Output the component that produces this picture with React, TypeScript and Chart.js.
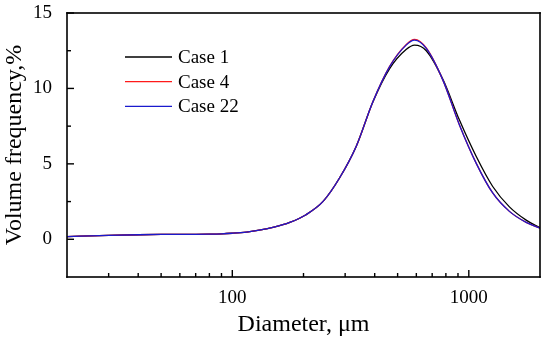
import React, { useEffect, useRef } from 'react';
import { Chart, registerables } from 'chart.js';

Chart.register(...registerables);

// ---- data ----
const diameters = [20, 30, 40, 50, 60, 70, 80, 90, 100, 115, 130, 150, 175, 205, 242, 284, 334, 393, 462, 543, 590, 661, 777, 913, 1074, 1262, 1485, 1748, 2000];
const case1 = [0.18, 0.26, 0.3, 0.32, 0.33, 0.33, 0.34, 0.36, 0.4, 0.48, 0.6, 0.8, 1.12, 1.63, 2.51, 4.06, 6.15, 9.1, 11.3, 12.58, 12.87, 12.5, 10.6, 7.9, 5.5, 3.5, 2.15, 1.27, 0.76];
const case4 = [0.18, 0.26, 0.3, 0.32, 0.33, 0.33, 0.34, 0.36, 0.4, 0.48, 0.6, 0.8, 1.12, 1.63, 2.51, 4.06, 6.15, 9.12, 11.45, 12.9, 13.25, 12.68, 10.55, 7.58, 5.05, 3.07, 1.85, 1.12, 0.74];
const case22 = [0.18, 0.26, 0.3, 0.32, 0.33, 0.33, 0.34, 0.36, 0.4, 0.48, 0.6, 0.8, 1.12, 1.63, 2.51, 4.06, 6.15, 9.12, 11.43, 12.87, 13.2, 12.65, 10.55, 7.58, 5.05, 3.07, 1.85, 1.12, 0.74];

const seriesNames = ['Case 1', 'Case 4', 'Case 22'];
const seriesColors = ['#000000', '#ff1a1a', '#1a1acd'];

const xMin = 20;
const xMax = 2000;
const yMin = -2.5;
const yMax = 15;
const xMajorTicks = [100, 1000];
const xMinorTicks = [30, 40, 50, 60, 70, 80, 90, 200, 300, 400, 500, 600, 700, 800, 900];
const yMajorTicks = [0, 5, 10, 15];
const yMinorTicks = [2.5, 7.5, 12.5];

const FONT = '"Liberation Serif", "Times New Roman", serif';

const framePlugin = {
  id: 'frameTicks',
  afterDraw(chart: any) {
    const ctx = chart.ctx as CanvasRenderingContext2D;
    const { left, right, top, bottom } = chart.chartArea;
    const xs = chart.scales.x;
    const ys = chart.scales.y;
    ctx.save();
    ctx.globalAlpha = 1;
    ctx.fillStyle = '#000000';
    const w = 1.6;
    // frame: four sides
    ctx.fillRect(left - w / 2, top - w / 2, right - left + w, w);
    ctx.fillRect(left - w / 2, bottom - w / 2, right - left + w, w);
    ctx.fillRect(left - w / 2, top - w / 2, w, bottom - top + w);
    ctx.fillRect(right - w / 2, top - w / 2, w, bottom - top + w);

    // inward ticks
    const tw = 1.4;
    xMajorTicks.forEach((v) => {
      const px = xs.getPixelForValue(v);
      ctx.fillRect(px - tw / 2, bottom - 7, tw, 7);
    });
    xMinorTicks.forEach((v) => {
      const px = xs.getPixelForValue(v);
      ctx.fillRect(px - tw / 2, bottom - 4, tw, 4);
    });
    yMajorTicks.forEach((v) => {
      const py = ys.getPixelForValue(v);
      ctx.fillRect(left, py - tw / 2, 7, tw);
    });
    yMinorTicks.forEach((v) => {
      const py = ys.getPixelForValue(v);
      ctx.fillRect(left, py - tw / 2, 4, tw);
    });

    // legend inside the plot
    const lx = left + 58;
    const ly = top + 44;
    const gap = 24.7;
    ctx.font = '19px ' + FONT;
    ctx.textBaseline = 'middle';
    ctx.textAlign = 'left';
    seriesNames.forEach((name, i) => {
      const y = ly + i * gap;
      ctx.beginPath();
      ctx.strokeStyle = seriesColors[i];
      ctx.lineWidth = 1.3;
      ctx.moveTo(lx, y);
      ctx.lineTo(lx + 47, y);
      ctx.stroke();
      ctx.fillStyle = '#000';
      ctx.fillText(name, lx + 53, y + 1);
    });
    ctx.restore();
  },
};

export default function App() {
  const ref = useRef<HTMLCanvasElement | null>(null);

  useEffect(() => {
    document.body.style.margin = '0';
    const values = [case1, case4, case22];
    const datasets = values
      .map((vals, i) => ({
        label: seriesNames[i],
        data: diameters.map((d, j) => ({ x: d, y: vals[j] })),
        borderColor: seriesColors[i],
        borderWidth: 1.3,
        pointRadius: 0,
        fill: false,
        cubicInterpolationMode: 'monotone' as const,
      }))
      .reverse();

    const chart = new Chart(ref.current as HTMLCanvasElement, {
      type: 'line',
      data: { datasets },
      plugins: [framePlugin],
      options: {
        animation: false,
        responsive: false,
        devicePixelRatio: 1,
        layout: { padding: { top: 13, right: 10, left: 0, bottom: 0 } },
        plugins: { legend: { display: false }, tooltip: { enabled: false } },
        scales: {
          x: {
            type: 'logarithmic',
            min: xMin,
            max: xMax,
            grid: { display: false },
            border: { display: false },
            afterBuildTicks: (s: any) => {
              s.ticks = xMajorTicks.map((v) => ({ value: v }));
            },
            afterFit: (s: any) => {
              s.height = 62;
              s.paddingLeft = 0;
              s.paddingRight = 0;
            },
            ticks: {
              color: '#000',
              font: { family: FONT, size: 19 },
              padding: 2,
              maxRotation: 0,
              autoSkip: false,
              callback: (v: any) => String(v),
            },
            title: {
              display: true,
              text: 'Diameter, μm',
              color: '#000',
              font: { family: FONT, size: 24 },
              padding: 0,
            },
          },
          y: {
            type: 'linear',
            min: yMin,
            max: yMax,
            grid: { display: false },
            border: { display: false },
            afterBuildTicks: (s: any) => {
              s.ticks = yMajorTicks.map((v) => ({ value: v }));
            },
            afterFit: (s: any) => {
              s.width = 67;
              s.paddingTop = 0;
              s.paddingBottom = 0;
            },
            ticks: {
              color: '#000',
              font: { family: FONT, size: 19 },
              padding: 7,
              callback: (v: any) => String(v),
            },
            title: {
              display: true,
              text: 'Volume frequency,%',
              color: '#000',
              font: { family: FONT, size: 24 },
              padding: 0,
            },
          },
        },
      },
    });
    return () => chart.destroy();
  }, []);

  return (
    <div style={{ position: 'absolute', left: 0, top: 0, width: 550, height: 339, background: '#fff' }}>
      <canvas ref={ref} width={550} height={339} style={{ display: 'block' }} />
    </div>
  );
}
